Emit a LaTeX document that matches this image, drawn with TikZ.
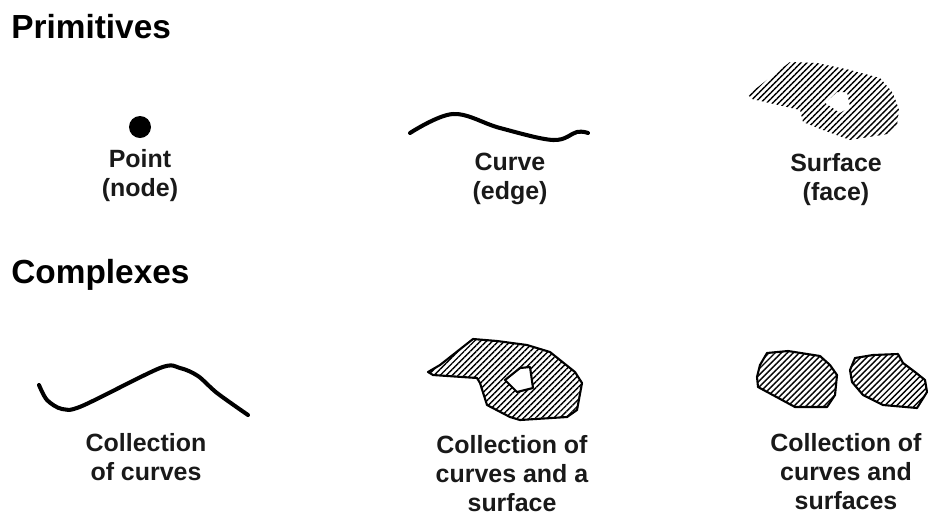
\documentclass[tikz,border=0pt]{standalone}
\usepackage{fontspec}
\setmainfont{Liberation Sans}
\usetikzlibrary{patterns.meta,positioning}

\tikzset{
  heading/.style={font=\fontsize{19}{22}\selectfont\bfseries, anchor=base west, inner sep=0pt},
  caption/.style={font=\fontsize{14.2}{16.4}\selectfont\bfseries, align=center, anchor=north, inner sep=0pt, text=black!90},
  curveline/.style={line width=2.3pt, line cap=round, line join=round},
  hatched/.style={pattern={Lines[angle=45, distance=0.085cm, line width=0.8pt]}},
  blob/.style={hatched, draw, line width=1.2pt, line join=round}
}

\begin{document}
\begin{tikzpicture}[x=0.02cm, y=-0.02cm]
    \useasboundingbox (0,0) rectangle (928,515);

    % Section titles
    \node[heading] (primitives) at (11,38) {Primitives};
    \node[heading] (complexes) at (11,283) {Complexes};

    % Point
    \node[circle, fill=black, minimum size=0.44cm, inner sep=0pt] (dot) at (140,127) {};
    \node[caption] (pointlbl) at (140,149) {Point\\(node)};

    % Curve
    \draw[curveline] plot[smooth, tension=0.6] coordinates
        {(410,133) (453,114) (500,128) (553,140) (577,132) (588,133)};
    \node[caption] (curvelbl) at (510,153) {Curve\\(edge)};

    % Surface (no outline)
    \fill[hatched, even odd rule] (748,95) -- (763,83) -- (790,62) -- (817,63) -- (850,70) -- (880,78)
        -- (893,93) -- (899,110) -- (897,125) -- (888,134) -- (850,140) -- (823,130)
        -- (803,122) -- (800,110) -- (752,99) -- cycle
        (825,103) -- (837,92) -- (847,92) -- (850,107) -- (840,113) -- cycle;
    \node[caption] (surfacelbl) at (836,153) {Surface\\(face)};

    % Collection of curves
    \draw[curveline] plot[smooth, tension=0.5] coordinates
        {(39,385) (47,400) (62,409) (82,406) (160,368) (180,368) (198,376) (217,393) (248,415)};
    \node[caption] (curveslbl) at (146,433) {Collection\\of curves};

    % Collection of curves and a surface
    \filldraw[blob, even odd rule] (428,372) -- (440,365) -- (473,339) -- (497,341) -- (527,345)
        -- (550,352) -- (575,372) -- (582,383) -- (577,410) -- (567,417) -- (520,420)
        -- (510,417) -- (487,405) -- (480,383) -- (477,378) -- (433,375) -- cycle
        (505,380) -- (520,368) -- (530,367) -- (533,388) -- (517,392) -- cycle;
    \node[caption] (mixedlbl) at (512,435) {Collection of\\curves and a\\surface};

    % Collection of curves and surfaces
    \filldraw[blob] (767,353) -- (788,351) -- (820,356) -- (830,365) -- (837,375) -- (835,395)
        -- (827,407) -- (795,407) -- (758,387) -- (757,377) -- (760,365) -- cycle;
    \filldraw[blob] (855,358) -- (873,355) -- (898,354) -- (903,363) -- (915,372) -- (925,380)
        -- (927,392) -- (917,408) -- (883,405) -- (863,395) -- (852,382) -- (850,370) -- cycle;
    \node[caption] (surfaceslbl) at (846,433) {Collection of\\curves and\\surfaces};
\end{tikzpicture}
\end{document}
